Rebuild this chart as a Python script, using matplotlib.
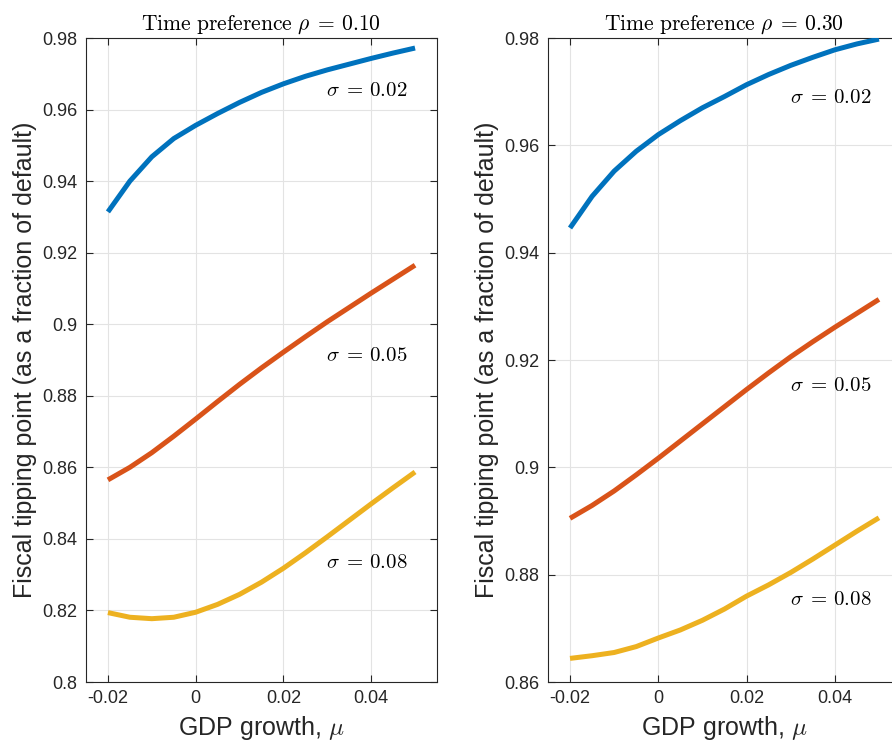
import numpy as np
import matplotlib
matplotlib.use('Agg')
import matplotlib.pyplot as plt
import matplotlib.ticker as ticker

# GDP growth grid
mu = [-0.02, -0.015, -0.01, -0.005, 0.0, 0.005, 0.01, 0.015,
      0.02, 0.025, 0.03, 0.035, 0.04, 0.045, 0.05]

# rho = 0.10
left_s002 = [0.9314, 0.9400, 0.9468, 0.9519, 0.9556, 0.9589, 0.9620, 0.9648,
             0.9672, 0.9693, 0.9711, 0.9727, 0.9743, 0.9758, 0.9772]
left_s005 = [0.8565, 0.8600, 0.8641, 0.8687, 0.8735, 0.8784, 0.8832, 0.8878,
             0.8922, 0.8965, 0.9007, 0.9047, 0.9087, 0.9126, 0.9165]
left_s008 = [0.8194, 0.8181, 0.8177, 0.8181, 0.8195, 0.8217, 0.8245, 0.8279,
             0.8318, 0.8361, 0.8406, 0.8452, 0.8498, 0.8543, 0.8587]

# rho = 0.30
right_s002 = [0.9446, 0.9505, 0.9552, 0.9589, 0.9620, 0.9646, 0.9670, 0.9691,
              0.9713, 0.9732, 0.9749, 0.9764, 0.9778, 0.9789, 0.9798]
right_s005 = [0.8905, 0.8929, 0.8956, 0.8986, 0.9017, 0.9049, 0.9081, 0.9113,
              0.9145, 0.9176, 0.9206, 0.9234, 0.9261, 0.9287, 0.9313]
right_s008 = [0.8644, 0.8649, 0.8655, 0.8666, 0.8682, 0.8697, 0.8715, 0.8736,
              0.8760, 0.8781, 0.8804, 0.8829, 0.8855, 0.8881, 0.8906]

sigma_labels = ['0.02', '0.05', '0.08']
rho_labels = ['0.10', '0.30']
colors = ['#0072BD', '#D95319', '#EDB120']

plt.rcParams['font.family'] = ['Liberation Sans', 'DejaVu Sans']

fig = plt.figure(figsize=(8.92, 7.47), dpi=100)
ax1 = fig.add_axes([0.0964, 0.0870, 0.3935, 0.8621])
ax2 = fig.add_axes([0.6143, 0.0870, 0.3958, 0.8621])

panels = [
    (ax1, [left_s002, left_s005, left_s008], (0.8, 0.98), np.arange(0.8, 0.981, 0.02),
     [0.9652, 0.8914, 0.8333]),
    (ax2, [right_s002, right_s005, right_s008], (0.86, 0.98), np.arange(0.86, 0.981, 0.02),
     [0.969, 0.9152, 0.8753]),
]

fmt = ticker.FuncFormatter(lambda v, p: '%g' % round(v, 4))

for k, (ax, series, ylim, yt, lab_y) in enumerate(panels):
    for s, ys in enumerate(series):
        ax.plot(mu, ys, color=colors[s], linewidth=3.6, solid_capstyle='butt',
                solid_joinstyle='round', zorder=3)
        ax.text(0.0298, lab_y[s], r'$\sigma\;=\,%s$' % sigma_labels[s], fontsize=15,
                math_fontfamily='cm', va='center', ha='left', color='black')
    ax.set_xlim(-0.025, 0.055)
    ax.set_ylim(*ylim)
    ax.set_xticks([-0.02, 0, 0.02, 0.04])
    ax.set_yticks(yt)
    ax.xaxis.set_major_formatter(fmt)
    ax.yaxis.set_major_formatter(fmt)
    ax.grid(True, color='#e3e3e3', linewidth=0.8, zorder=0)
    ax.set_axisbelow(True)
    ax.tick_params(direction='in', length=5, width=0.8, colors='#262626', labelsize=13,
                   top=True, right=True, pad=6)
    for sp in ax.spines.values():
        sp.set_color('#262626')
        sp.set_linewidth(0.8)
    ax.set_title(r'$\mathrm{Time\ preference}\ \rho\;=\,%s$' % rho_labels[k], fontsize=15.5,
                 math_fontfamily='cm', pad=6)
    ax.set_xlabel(r'GDP growth, $\mu$', fontsize=18, math_fontfamily='cm', color='#262626',
                  labelpad=5)
    ax.set_ylabel('Fiscal tipping point (as a fraction of default)', fontsize=18,
                  color='#262626', labelpad=4)

fig.savefig('out.png', dpi=100)
